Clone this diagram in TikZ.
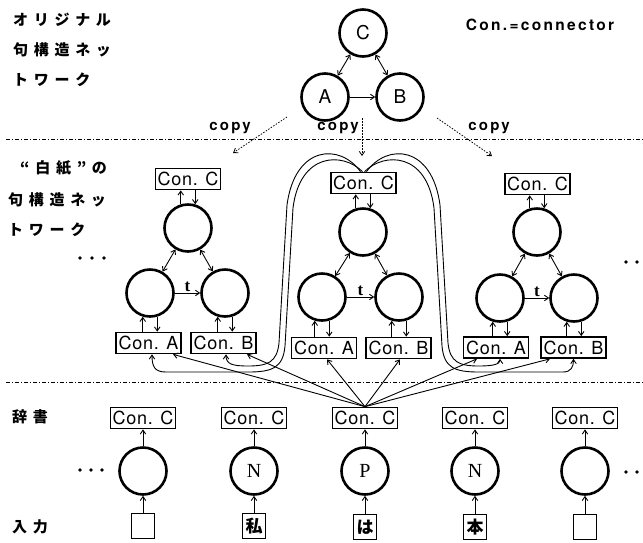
\documentclass[tikz,border=0pt]{standalone}
\usepackage{fontspec}
\setmainfont{Liberation Serif}
\setsansfont{TeX Gyre Heros}
\newfontfamily\jpf{Noto Sans CJK JP}
\newfontfamily\jpsp{Noto Sans CJK JP}[LetterSpace=38]
\newfontfamily\conf{TeX Gyre Heros}[LetterSpace=4]
\newfontfamily\cpf{TeX Gyre Heros}[LetterSpace=15]
\usetikzlibrary{arrows.meta}
\tikzset{
  circ/.style={circle, draw, line width=2.6pt, minimum size=47pt, inner sep=0pt},
  sanslet/.style={font=\sffamily\fontsize{19}{19}\selectfont},
  serlet/.style={font=\rmfamily\fontsize{20}{20}\selectfont},
  conbox/.style={draw, line width=1.7pt, minimum width=65pt, minimum height=21pt, inner sep=0pt, font=\conf\fontsize{18}{18}\selectfont},
  inbox/.style={draw, line width=1.9pt, minimum width=23pt, minimum height=25pt, inner sep=0pt, font=\jpf\bfseries\fontsize{17}{17}\selectfont},
  conn/.style={line width=0.9pt, ->},
  sepline/.style={line width=1pt, dash pattern=on 4pt off 2pt on 1pt off 2pt},
  copyarr/.style={line width=0.8pt, dash pattern=on 1.5pt off 1.5pt, ->},
  jp/.style={font=\jpsp\bfseries\fontsize{15}{15}\selectfont, anchor=west, inner sep=0pt},
  cpy/.style={font=\cpf\bfseries\fontsize{15}{15}\selectfont, inner sep=0pt},
  tlab/.style={midway, above=1pt, font=\rmfamily\bfseries\fontsize{17}{17}\selectfont, inner sep=0pt},
}
\begin{document}
\begin{tikzpicture}[x=1pt, y=-1pt, >={Straight Barb[length=4pt,width=5.5pt]}]
\useasboundingbox (0,0) rectangle (643,542);

% ---------- left texts ----------
\node[jp] (j1) at (13,20) {オリジナル};
\node[jp] (j2) at (13,50) {句構造ネッ};
\node[jp] (j3) at (13,80) {トワーク};
\node[jp] (j4) at (20,168) {“白紙”の};
\node[jp] (j5) at (8,200) {句構造ネッ};
\node[jp] (j6) at (8,230) {トワーク};
\node[jp] (j7) at (12,417) {辞書};
\node[jp] (j8) at (12,527) {入力};

\node[cpy, font=\cpf\bfseries\fontsize{15.5}{15.5}\selectfont] (leg) at (540,25) {Con.=connector};

% ---------- original network ----------
\node[circ, sanslet] (oC) at (363,33) {C};
\node[circ, sanslet] (oA) at (325,97) {A};
\node[circ, sanslet] (oB) at (400,97) {B};
\draw[conn, <->] (oC) -- (oA);
\draw[conn, <->] (oC) -- (oB);
\draw[conn] (oA) -- (oB);

% ---------- copy arrows ----------
\node[cpy] (cp1) at (230,128) {copy};
\node[cpy] (cp2) at (338,128) {copy};
\node[cpy] (cp3) at (489,128) {copy};
\coordinate (c1s) at (287,117); \coordinate (c1e) at (233,153);
\coordinate (c2s) at (362,118); \coordinate (c2e) at (362,156);
\coordinate (c3s) at (437,118); \coordinate (c3e) at (492,156);
\draw[copyarr] (c1s) -- (c1e);
\draw[copyarr] (c2s) -- (c2e);
\draw[copyarr] (c3s) -- (c3e);

% ---------- separators ----------
\coordinate (s1a) at (6,139); \coordinate (s1b) at (643,139);
\coordinate (s2a) at (6,382); \coordinate (s2b) at (643,382);
\draw[sepline] (s1a) -- (s1b);
\draw[sepline] (s2a) -- (s2b);

% ---------- blank copies ----------
\node[conbox] (lC) at (188,179) {Con. C};
\node[circ] (lT) at (188,228) {};
\node[circ] (lL) at (150,293) {};
\node[circ] (lR) at (225,293) {};
\node[conbox] (lA) at (148.5,343) {Con. A};
\node[conbox] (lB) at (223.5,343) {Con. B};

\node[conbox] (mC) at (363.5,183) {Con. C};
\node[circ] (mT) at (363,232) {};
\node[circ] (mL) at (322,297) {};
\node[circ] (mR) at (399,297) {};
\node[conbox] (mA) at (324,348) {Con. A};
\node[conbox] (mB) at (398.5,348) {Con. B};

\node[conbox] (rC) at (537.5,184) {Con. C};
\node[circ] (rT) at (537,232) {};
\node[circ] (rL) at (500,298) {};
\node[circ] (rR) at (574,298) {};
\node[conbox] (rA) at (496,347.5) {Con. A};
\node[conbox] (rB) at (573.5,347.5) {Con. B};

\foreach \p in {l,m,r} {
  \draw[conn] (\p T.107) -- (\p T.107 |- \p C.south);
  \draw[conn] (\p T.73 |- \p C.south) -- (\p T.73);
  \draw[conn, <->] (\p T) -- (\p L);
  \draw[conn, <->] (\p T) -- (\p R);
  \draw[conn] (\p L) -- node[tlab] (\p t) {t} (\p R);
  \draw[conn] (\p L.253 |- \p A.north) -- (\p L.253);
  \draw[conn] (\p L.287) -- (\p L.287 |- \p A.north);
  \draw[conn] (\p R.253 |- \p B.north) -- (\p R.253);
  \draw[conn] (\p R.287) -- (\p R.287 |- \p B.north);
}

% dots
\fill (80,258) circle (1.8pt) (92,258) circle (1.8pt) (104,258) circle (1.8pt);
\fill (626,262) circle (1.8pt) (637,262) circle (1.8pt) (648,262) circle (1.8pt);
\fill (80,470) circle (1.8pt) (91,470) circle (1.8pt) (102,470) circle (1.8pt);
\fill (626,472) circle (1.8pt) (637,472) circle (1.8pt) (648,472) circle (1.8pt);

% ---------- dictionary and input ----------
\node[conbox] (d1) at (143,418) {Con. C};
\node[conbox] (d2) at (254,418) {Con. C};
\node[conbox] (d3) at (365,418) {Con. C};
\node[conbox] (d4) at (475,418) {Con. C};
\node[conbox] (d5) at (585,418) {Con. C};
\node[circ] (e1) at (143,471) {};
\node[circ, serlet] (e2) at (254,471) {N};
\node[circ, serlet] (e3) at (365,471) {P};
\node[circ, serlet] (e4) at (475,471) {N};
\node[circ] (e5) at (585,471) {};
\node[inbox] (i1) at (143,526) {};
\node[inbox] (i2) at (254,526) {私};
\node[inbox] (i3) at (365,527) {は};
\node[inbox] (i4) at (475,527) {本};
\node[inbox] (i5) at (585,527) {};
\foreach \k in {1,...,5} {
  \draw[conn] (i\k) -- (e\k);
  \draw[conn] (e\k) -- (d\k);
}

% ---------- links from dictionary Con. C ----------
\draw[conn] (d3.north) -- ([xshift=24.5pt]lA.south);
\draw[conn] (d3.north) -- ([xshift=23.5pt]lB.south);
\draw[conn] (d3.north) -- ([xshift=3pt]mA.south);
\draw[conn] (d3.north) -- ([xshift=1.5pt]mB.south);
\draw[conn] (d3.north) -- ([xshift=-19pt]rA.south);
\draw[conn] (d3.north) -- ([xshift=-23.5pt]rB.south);

% ---------- tube from middle Con. C ----------
\draw[conn] ([xshift=-3pt]mC.north) .. controls (340,143) and (295,145) .. (287,205)
  -- (279,343) .. controls (277,362) and (268,366) .. (248,366)
  .. controls (232,366) and (226,364) .. ([xshift=2.5pt]lB.south);
\draw[conn] ([xshift=-1pt]mC.north) .. controls (343,152) and (300,152) .. (293,208)
  -- (285,346) .. controls (283,368) and (272,372) .. (248,372)
  -- (166,372) .. controls (155,372) and (152,367) .. ([xshift=3.5pt]lA.south);
\draw[conn] ([xshift=3pt]mC.north) .. controls (387,143) and (432,145) .. (440,205)
  -- (448,343) .. controls (450,362) and (459,366) .. (479,366)
  .. controls (494,366) and (500,364) .. ([xshift=4pt]rA.south);
\draw[conn] ([xshift=1pt]mC.north) .. controls (384,152) and (427,152) .. (434,208)
  -- (442,346) .. controls (444,368) and (455,372) .. (479,372)
  -- (563,372) .. controls (571,372) and (573.5,367) .. (rB.south);
\end{tikzpicture}
\end{document}
